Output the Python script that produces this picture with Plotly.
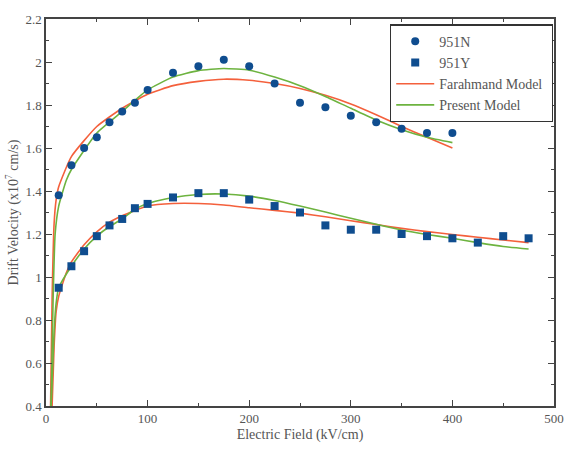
import plotly.graph_objects as go

# Measured data
field_951n = [12.5, 25, 37.5, 50, 62.5, 75, 87.5, 100, 125, 150, 175, 200, 225, 250, 275, 300, 325, 350, 375, 400]
vel_951n = [1.38, 1.52, 1.60, 1.65, 1.72, 1.77, 1.81, 1.87, 1.95, 1.98, 2.01, 1.98, 1.90, 1.81, 1.79, 1.75, 1.72, 1.69, 1.67, 1.67]

field_951y = [12.5, 25, 37.5, 50, 62.5, 75, 87.5, 100, 125, 150, 175, 200, 225, 250, 275, 300, 325, 350, 375, 400, 425, 450, 475]
vel_951y = [0.95, 1.05, 1.12, 1.19, 1.24, 1.27, 1.32, 1.34, 1.37, 1.39, 1.39, 1.36, 1.33, 1.30, 1.24, 1.22, 1.22, 1.20, 1.19, 1.18, 1.16, 1.19, 1.18]

# Farahmand model curves
far_n_x = [4.5, 6, 8, 10, 12.5, 25, 50, 75, 100, 125, 150, 175, 200, 225, 250, 275, 300, 325, 350, 375, 400]
far_n_y = [0.4, 0.9, 1.25, 1.36, 1.42, 1.56, 1.70, 1.785, 1.85, 1.89, 1.91, 1.92, 1.915, 1.90, 1.877, 1.845, 1.805, 1.755, 1.70, 1.65, 1.60]
far_y_x = [6, 8, 10, 12.5, 20, 25, 37.5, 50, 62.5, 75, 100, 125, 150, 175, 200, 225, 250, 275, 300, 325, 350, 375, 400, 425, 450, 475]
far_y_y = [0.4, 0.68, 0.84, 0.91, 1.02, 1.07, 1.15, 1.21, 1.255, 1.285, 1.33, 1.342, 1.342, 1.335, 1.322, 1.31, 1.297, 1.28, 1.262, 1.244, 1.226, 1.211, 1.198, 1.185, 1.172, 1.16]

# Present model curves
pre_n_x = [5, 7, 9, 12.5, 20, 25, 50, 75, 100, 125, 150, 175, 200, 225, 250, 275, 300, 325, 350, 375, 400]
pre_n_y = [0.4, 0.9, 1.2, 1.33, 1.45, 1.50, 1.67, 1.77, 1.87, 1.93, 1.96, 1.97, 1.962, 1.93, 1.89, 1.84, 1.785, 1.73, 1.685, 1.65, 1.625]
pre_y_x = [5, 8, 10, 12.5, 25, 37.5, 50, 62.5, 75, 87.5, 100, 125, 150, 175, 200, 225, 250, 275, 300, 325, 350, 375, 400, 425, 450, 475]
pre_y_y = [0.4, 0.75, 0.88, 0.95, 1.05, 1.13, 1.19, 1.235, 1.27, 1.315, 1.342, 1.37, 1.384, 1.386, 1.376, 1.356, 1.33, 1.302, 1.273, 1.245, 1.219, 1.198, 1.18, 1.16, 1.142, 1.13]

blue = "#0f4d8f"
red = "#f4603c"
green = "#6db33f"
axcol = "#444444"
txtcol = "#555555"
font = "Liberation Serif, Times New Roman, serif"

fig = go.Figure()
for xs, ys, col in [(far_n_x, far_n_y, red), (far_y_x, far_y_y, red),
                    (pre_n_x, pre_n_y, green), (pre_y_x, pre_y_y, green)]:
    fig.add_trace(go.Scatter(x=xs, y=ys, mode="lines",
                             line=dict(color=col, width=1.6, shape="spline", smoothing=0.5),
                             showlegend=False, hoverinfo="skip"))
fig.add_trace(go.Scatter(x=field_951n, y=vel_951n, mode="markers", name="951N",
                         marker=dict(symbol="circle", size=8, color=blue)))
fig.add_trace(go.Scatter(x=field_951y, y=vel_951y, mode="markers", name="951Y",
                         marker=dict(symbol="square", size=8, color=blue)))
# legend entries for models
fig.add_trace(go.Scatter(x=[-100], y=[0], mode="lines", name="Farahmand Model\u00a0", line=dict(color=red, width=1.6)))
fig.add_trace(go.Scatter(x=[-100], y=[0], mode="lines", name="Present Model", line=dict(color=green, width=1.6)))

axis_common = dict(
    showgrid=False, zeroline=False, showline=True, linecolor=axcol, linewidth=1.5,
    mirror="ticks", ticks="inside", ticklen=6, tickwidth=1.3, tickcolor=axcol,
    tickfont=dict(family=font, size=13, color=txtcol),
)

fig.update_xaxes(range=[0, 500], tickvals=[0, 100, 200, 300, 400, 500],
                 minor=dict(ticks="inside", ticklen=3, tickmode="linear", tick0=0, dtick=50, tickcolor=axcol),
                 title=dict(text="Electric Field (kV/cm)", font=dict(family=font, size=14, color=txtcol), standoff=4),
                 **axis_common)
fig.update_yaxes(range=[0.4, 2.2],
                 tickvals=[0.4, 0.6, 0.8, 1.0, 1.2, 1.4, 1.6, 1.8, 2.0, 2.2],
                 ticktext=["0.4", "0.6", "0.8", "1", "1.2", "1.4", "1.6", "1.8", "2", "2.2"],
                 minor=dict(ticks="inside", ticklen=3, tickmode="linear", tick0=0.4, dtick=0.1, tickcolor=axcol),
                 title=dict(text="Drift Velocity (x10<sup>7</sup> cm/s)", font=dict(family=font, size=14, color=txtcol), standoff=4),
                 **axis_common)

fig.update_layout(
    width=576, height=452,
    margin=dict(l=44, r=13, t=19, b=46),
    plot_bgcolor="white", paper_bgcolor="white",
    legend=dict(x=0.677, y=0.986, xanchor="left", yanchor="top",
                bgcolor="white", bordercolor="#333333", borderwidth=1.3,
                font=dict(family=font, size=14, color=txtcol),
                tracegroupgap=0, itemwidth=38),
)

fig.write_html("out.html")
